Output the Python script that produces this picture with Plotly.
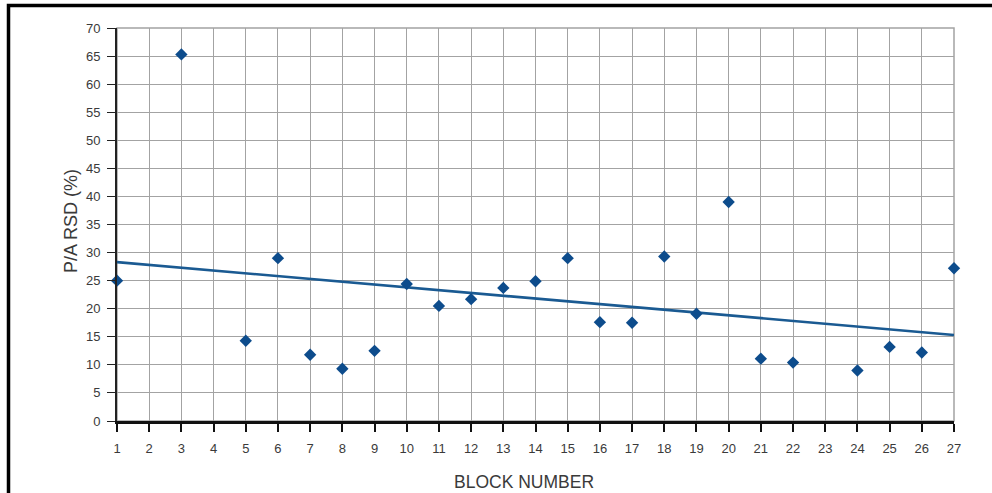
import numpy as np
import plotly.graph_objects as go

# Block numbers with a measurement, and the P/A RSD value for each (%)
block = [1, 3, 5, 6, 7, 8, 9, 10, 11, 12, 13, 14, 15, 16, 17, 18, 19, 20,
         21, 22, 24, 25, 26, 27]
rsd = [25.0, 65.3, 14.3, 29.0, 11.8, 9.3, 12.5, 24.4, 20.5, 21.7, 23.7, 24.9,
       29.0, 17.6, 17.5, 29.3, 19.1, 39.0, 11.1, 10.4, 9.0, 13.2, 12.2, 27.2]

x_ticks = list(range(1, 28))
y_ticks = list(range(0, 75, 5))

# Linear trend fitted to the measurements
slope, intercept = np.polyfit(block, rsd, 1)
trend_x = [x_ticks[0], x_ticks[-1]]
trend_y = [slope * v + intercept for v in trend_x]

BLUE = "#0d4c8c"
TXT = "#3a3a3a"
GRID = "#a3a3a3"

fig = go.Figure()
fig.add_trace(go.Scatter(
    x=trend_x, y=trend_y, mode="lines",
    line=dict(color="#1a5a92", width=2.6),
    hoverinfo="skip", cliponaxis=False,
))
fig.add_trace(go.Scatter(
    x=block, y=rsd, mode="markers",
    marker=dict(symbol="diamond", size=9.5, color=BLUE),
    cliponaxis=False,
))

W, H = 992, 493
L, R, T, B = 117, 38, 28, 72
pw, ph = W - L - R, H - T - B

fig.update_layout(
    width=W, height=H,
    margin=dict(l=L, r=R, t=T, b=B),
    paper_bgcolor="white", plot_bgcolor="white",
    showlegend=False,
    font=dict(family="Liberation Sans, Arial, sans-serif", size=13, color=TXT),
    xaxis=dict(
        range=[1, 27], tickmode="array", tickvals=x_ticks,
        ticktext=[str(v) for v in x_ticks],
        showgrid=True, gridcolor=GRID, gridwidth=1,
        zeroline=False, showline=True, linecolor="#111111", linewidth=3,
        ticks="outside", ticklen=8, tickwidth=2, tickcolor="#111111",
        ticklabelstandoff=5,
        tickfont=dict(size=13, color=TXT),
        fixedrange=True,
    ),
    yaxis=dict(
        range=[0, 70], tickmode="array", tickvals=y_ticks,
        showgrid=True, gridcolor=GRID, gridwidth=1,
        zeroline=False, showline=True, linecolor="#222222", linewidth=2,
        ticks="outside", ticklen=8, tickwidth=1, tickcolor="#222222",
        ticklabelstandoff=4,
        tickfont=dict(size=13, color=TXT),
        fixedrange=True,
    ),
    annotations=[
        dict(text="BLOCK NUMBER", xref="paper", yref="paper",
             x=(523.5 - L) / pw, y=-(482 - (T + ph)) / ph,
             showarrow=False, xanchor="center", yanchor="middle",
             font=dict(size=17.5, color=TXT)),
        dict(text="P/A RSD (%)", xref="paper", yref="paper",
             x=(71 - L) / pw, y=(T + ph - 221) / ph,
             showarrow=False, xanchor="center", yanchor="middle",
             textangle=-90, font=dict(size=18, color=TXT)),
    ],
    shapes=[
        # heavy black frame around the figure (top and left edges visible)
        dict(type="rect", xref="paper", yref="paper", layer="above",
             x0=(8.5 - L) / pw, x1=(W + 20 - L) / pw,
             y0=-(H + 20 - (T + ph)) / ph, y1=(T + ph - 5.5) / ph,
             line=dict(color="black", width=3.5)),
        # grey outline of the plotting area on the top and right
        dict(type="rect", xref="paper", yref="paper", layer="below",
             x0=0, x1=1, y0=0, y1=1, line=dict(color=GRID, width=1.5)),
    ],
)

fig.write_html("out.html")
